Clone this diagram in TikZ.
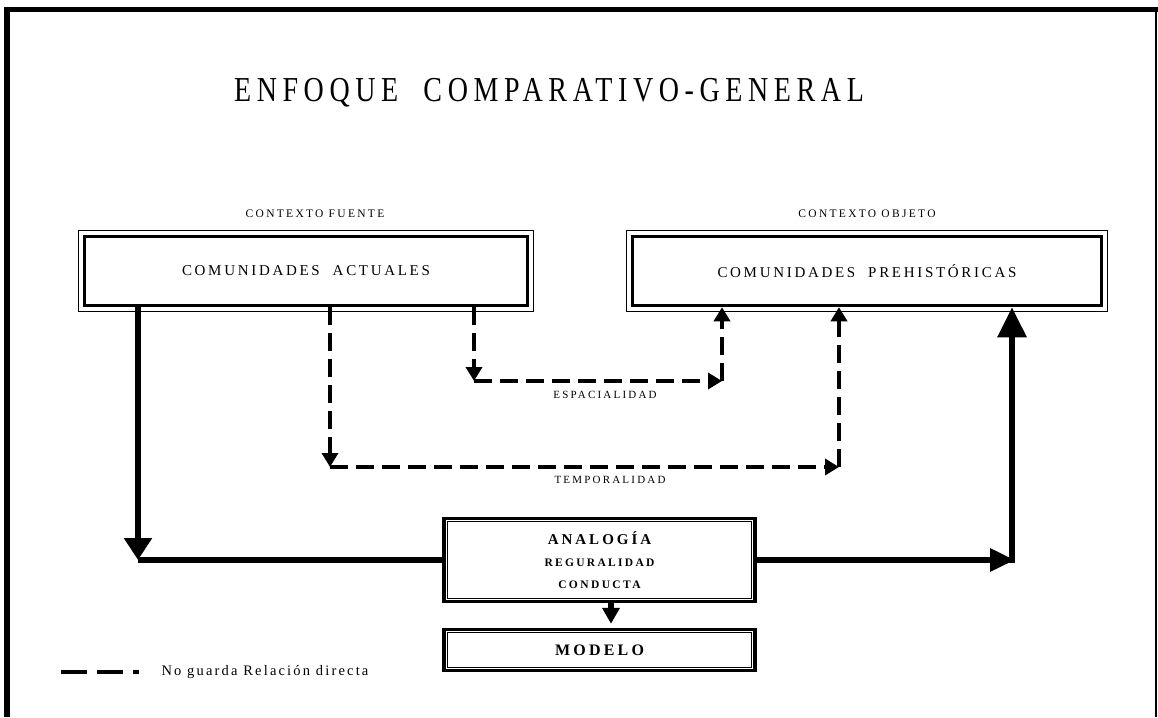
\documentclass[tikz,border=0pt]{standalone}
\usepackage{fontspec}
\setmainfont{Liberation Serif}
\usetikzlibrary{arrows.meta}

\begin{document}
\begin{tikzpicture}[x=1pt, y=1pt,
  caja/.style={draw, line width=3.5pt, inner sep=0pt, minimum height=69pt},
  cajab/.style={draw, line width=3.5pt, inner sep=0pt, minimum width=311pt},
  gruesa/.style={line width=6pt},
  rayas/.style={line width=3.5pt, dash pattern=on 18pt off 8pt, -{Triangle[length=14pt,width=16pt]}},
  rot/.style={font=\fontsize{#1}{#1}\selectfont\addfontfeature{LetterSpace=20}},
  rotb/.style={font=\fontsize{#1}{#1}\selectfont\bfseries\addfontfeature{LetterSpace=20}}]
  \useasboundingbox (0,0) rectangle (1158,-717);

  % marco
  \draw[line width=5pt] (4,-9.5) -- (1158,-9.5);
  \draw[line width=6pt] (7,-7) -- (7,-717);
  \draw[line width=2pt] (1156,-9) -- (1156,-717);

  \node (titulo) at (549,-93) {\scalebox{0.8}[1]{\fontsize{35}{35}\selectfont\addfontfeature{LetterSpace=20}ENFOQUE\ \ COMPARATIVO-GENERAL}};

  % cajas de arriba
  \node (fuente) [rot=11.5] at (315,-214) {CONTEXTO FUENTE};
  \node (objeto) [rot=11.5] at (867,-214) {CONTEXTO OBJETO};
  \node (actual) [caja, minimum width=443pt, font=\fontsize{15}{15}\selectfont\addfontfeature{LetterSpace=18}] at (306,-271) {COMUNIDADES\ \ ACTUALES};
  \node (prehist) [caja, minimum width=469pt, font=\fontsize{15}{15}\selectfont\addfontfeature{LetterSpace=18}] at (867,-271) {COMUNIDADES\ \ PREHISTÓRICAS};
  \foreach \n in {actual,prehist}
    \draw[line width=0.9pt] ([shift={(-4.3,4.3)}]\n.north west) rectangle ([shift={(4.3,-4.3)}]\n.south east);

  % cajas de abajo
  \node (analogia) [cajab, minimum height=83pt, align=center] at (599.5,-560)
    {{\fontsize{15}{15}\selectfont\bfseries\addfontfeature{LetterSpace=20}ANALOGÍA}\\[10pt]
     {\fontsize{11.5}{11.5}\selectfont\bfseries\addfontfeature{LetterSpace=20}REGURALIDAD}\\[10.5pt]
     {\fontsize{11.5}{11.5}\selectfont\bfseries\addfontfeature{LetterSpace=21}CONDUCTA}};
  \node (modelo) [cajab, minimum height=41pt, rotb=16] at (599.5,-650) {MODELO};
  \foreach \n in {analogia,modelo}
    \draw[line width=1pt] ([shift={(5,-5)}]\n.north west) rectangle ([shift={(-5,5)}]\n.south east);

  % flechas gruesas
  \coordinate (izq) at (138,-560);
  \coordinate (der) at (1012,-560);
  \coordinate (baja) at (611,-560);
  \draw[gruesa, -{Triangle[length=22pt,width=27pt]}] (actual.south -| izq) -- (izq);
  \draw[gruesa] (izq) -- (analogia.west);
  \draw[gruesa, -{Triangle[length=25pt,width=22pt]}] (analogia.east) -- ([xshift=3pt]der);
  \draw[gruesa, -{Triangle[length=30pt,width=28pt]}] ([yshift=-3pt]der) -- (prehist.south -| der);
  \draw[line width=6pt, -{Triangle[length=16pt,width=17pt]}, shorten >=4pt] (analogia.south -| baja) -- (modelo.north -| baja);

  % espacialidad
  \coordinate (e1) at (474,-381);
  \coordinate (e2) at (722,-381);
  \draw[rayas] (actual.south -| e1) -- (e1);
  \draw[rayas] (e1) -- (e2);
  \draw[rayas] (e2) -- (prehist.south -| e2);
  \node (espacio) [rot=11] at (605,-395) {ESPACIALIDAD};

  % temporalidad
  \coordinate (t1) at (330,-467);
  \coordinate (t2) at (839,-467);
  \draw[rayas] (actual.south -| t1) -- (t1);
  \draw[rayas] (t1) -- (t2);
  \draw[rayas] (t2) -- (prehist.south -| t2);
  \node (tiempo) [rot=11] at (610,-480) {TEMPORALIDAD};

  % leyenda
  \coordinate (l1) at (61,-672);
  \coordinate (l2) at (139,-672);
  \draw[line width=4pt, dash pattern=on 26pt off 10pt] (l1) -- (l2);
  \node (leyenda) [anchor=west, font=\fontsize{14.5}{14.5}\selectfont\addfontfeature{LetterSpace=15}] at (158,-672) {No guarda Relación directa};
\end{tikzpicture}
\end{document}
